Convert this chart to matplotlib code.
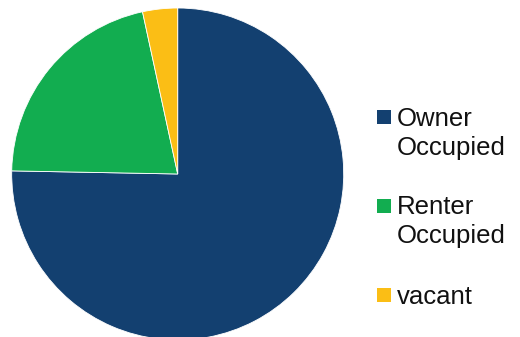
import matplotlib
matplotlib.use("Agg")
import matplotlib.pyplot as plt
from matplotlib.patches import Rectangle

categories = ["Owner Occupied", "Renter Occupied", "vacant"]
shares = [75.3, 21.3, 3.4]
colors = ["#134070", "#12AD50", "#FBBE15"]

W, H = 520, 337
fig = plt.figure(figsize=(W / 100, H / 100), dpi=100)
plt.rcParams["font.family"] = ["Liberation Sans", "DejaVu Sans"]

# pie: centre (177.7, 174) px from top-left, radius 166 px
cx, cy, r = 177.7, 174.0, 166.0
ax = fig.add_axes([(cx - r) / W, (H - cy - r) / H, 2 * r / W, 2 * r / H])
ax.pie(shares, colors=colors, startangle=90, counterclock=False,
       radius=1.0, wedgeprops=dict(linewidth=0.6, edgecolor="white"))
ax.set_xlim(-1, 1)
ax.set_ylim(-1, 1)
ax.set_aspect("auto")
ax.axis("off")

# legend entries: square + label lines (pixel positions from top)
sq = 13.5
text_x = 396.5
entries = [
    (123.5, [125.5, 155.5]),
    (212.7, [213.5, 243.5]),
    (301.7, [303.5]),
]
for (sq_bottom, baselines), label, col in zip(entries, categories, colors):
    fig.patches.append(Rectangle((377.3 / W, (H - sq_bottom) / H), sq / W, sq / H,
                                 transform=fig.transFigure, facecolor=col,
                                 edgecolor="none"))
    words = label.split(" ")
    for word, base in zip(words, baselines):
        fig.text(text_x / W, (H - base) / H, word, fontsize=18.5,
                 color="#111111", va="baseline", ha="left")

fig.savefig("out.png", dpi=100)
